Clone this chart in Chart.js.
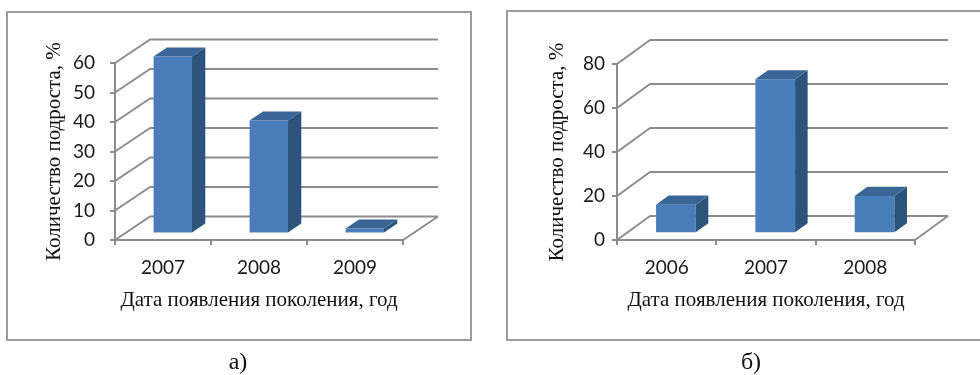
<!DOCTYPE html>
<html lang="ru">
<head>
<meta charset="utf-8">
<title>Количество подроста по дате появления поколения</title>
<script src="https://cdn.jsdelivr.net/npm/chart.js@4/dist/chart.umd.min.js"></script>
<style>
  html, body { margin: 0; padding: 0; background: #fff; overflow: hidden; }
  body { width: 980px; height: 375px; position: relative; }
  .frame { position: absolute; box-sizing: border-box; border: 2px solid #9b9b9b; }
  .cap { position: absolute; font-family: "Liberation Serif", "Times New Roman", serif;
         font-size: 24px; color: #111; transform: translate(-50%, -50%); white-space: nowrap; }
  canvas { position: absolute; top: 0; }
</style>
</head>
<body>
<div class="frame" style="left:6px; top:11px; width:466px; height:330px;"></div>
<div class="frame" style="left:506px; top:10px; width:480px; height:331px;"></div>
<canvas id="chartA" width="490" height="375" style="left:0"></canvas>
<canvas id="chartB" width="490" height="375" style="left:490px"></canvas>
<div class="cap" style="left:238px; top:361px;">а)</div>
<div class="cap" style="left:751px; top:361px;">б)</div>

<script>
// Panel а) — share of undergrowth by the year the generation appeared
const yearsA  = ['2007', '2008', '2009'];
const valuesA = [60, 38.3, 1.7];
const ticksA  = { max: 60, step: 10 };

// Panel б)
const yearsB  = ['2006', '2007', '2008'];
const valuesB = [13, 70, 17];
const ticksB  = { max: 80, step: 20 };

const yTitle = 'Количество подроста, %';
const xTitle = 'Дата появления поколения, год';

const LINE = '#8c8c8c';
const FRONT = '#4a7ebb', SIDE = '#2c5379', TOP = '#3a6594';

// Pseudo-3D: side wall, back wall and floor are drawn from the y-scale ticks,
// bars are pushed to mid-depth and get a side and a top face.
const depth3d = {
  id: 'depth3d',
  beforeDatasetsDraw(chart, args, o) {
    const { ctx, chartArea: a, scales: { y } } = chart;
    ctx.save();
    ctx.strokeStyle = LINE;
    ctx.lineWidth = 2;
    ctx.lineJoin = 'round';
    ctx.beginPath();
    y.ticks.forEach(t => {
      const py = y.getPixelForValue(t.value);
      ctx.moveTo(a.left, py);
      ctx.lineTo(a.left + o.dx, py + o.dy);
      ctx.lineTo(a.right + o.dx, py + o.dy);
    });
    ctx.moveTo(a.right, a.bottom);
    ctx.lineTo(a.right + o.dx, a.bottom + o.dy);
    ctx.stroke();
    ctx.restore();
    ctx.save();
    ctx.translate(o.dx * o.front, o.dy * o.front);
  },
  afterDatasetsDraw(chart, args, o) {
    const { ctx } = chart;
    const ddx = o.dx * (o.back - o.front), ddy = o.dy * (o.back - o.front);
    chart.getDatasetMeta(0).data.forEach(bar => {
      const { x, y, base, width } = bar.getProps(['x', 'y', 'base', 'width'], true);
      const l = x - width / 2, r = x + width / 2;
      ctx.fillStyle = SIDE;
      ctx.beginPath();
      ctx.moveTo(r, y); ctx.lineTo(r + ddx, y + ddy);
      ctx.lineTo(r + ddx, base + ddy); ctx.lineTo(r, base);
      ctx.closePath(); ctx.fill();
      ctx.fillStyle = TOP;
      ctx.beginPath();
      ctx.moveTo(l, y); ctx.lineTo(l + ddx, y + ddy);
      ctx.lineTo(r + ddx, y + ddy); ctx.lineTo(r, y);
      ctx.closePath(); ctx.fill();
    });
    ctx.restore();
  }
};

function makeChart(id, labels, values, t, g) {
  return new Chart(document.getElementById(id), {
    type: 'bar',
    data: {
      labels,
      datasets: [{ data: values, backgroundColor: FRONT, borderWidth: 0,
                   barPercentage: 0.8, categoryPercentage: 0.5, clip: false }]
    },
    options: {
      responsive: false,
      animation: false,
      events: [],
      layout: { padding: { left: 0, top: g.top, right: g.right, bottom: 0 } },
      plugins: {
        legend: { display: false },
        tooltip: { enabled: false },
        depth3d: { dx: g.dx, dy: g.dy, front: 0.28, back: 0.66 }
      },
      scales: {
        x: {
          afterFit: s => { s.height = 135; },
          grid: { drawOnChartArea: false, drawTicks: true, tickLength: 5, color: LINE, lineWidth: 2 },
          border: { display: true, color: LINE, width: 2 },
          ticks: { padding: 11, color: '#1a1a1a', font: { family: 'Lato', size: 19 } },
          title: { display: true, text: xTitle, color: '#111',
                   font: { family: 'Liberation Serif', size: 21 }, padding: { top: 0, bottom: 62 } }
        },
        y: {
          min: 0, max: t.max,
          afterFit: s => { s.width = g.left; },
          grid: { drawOnChartArea: false, drawTicks: true, tickLength: 5, color: LINE, lineWidth: 2 },
          border: { display: true, color: LINE, width: 2 },
          ticks: { stepSize: t.step, padding: g.tickPad, color: '#1a1a1a',
                   font: { family: 'Lato', size: 19 } },
          title: { display: true, text: yTitle, color: '#111',
                   font: { family: 'Liberation Serif', size: 21 }, padding: { top: g.titleTop, bottom: 0 } }
        }
      }
    },
    plugins: [depth3d]
  });
}

makeChart('chartA', yearsA, valuesA, ticksA,
  { left: 115, top: 63, right: 87, dx: 35, dy: -23.5, tickPad: 15, titleTop: 42 });
makeChart('chartB', yearsB, valuesB, ticksB,
  { left: 127, top: 64, right: 65, dx: 33, dy: -24, tickPad: 7, titleTop: 55 });
</script>
</body>
</html>
